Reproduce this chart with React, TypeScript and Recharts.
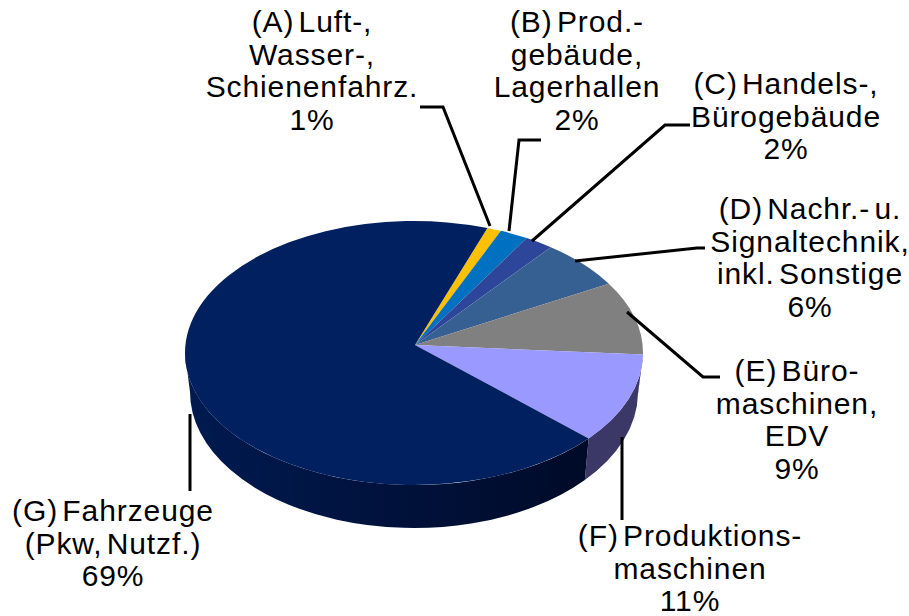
import { PieChart, Pie, Cell } from 'recharts';

const sliceLabels = [
  ['(A) Luft-,', 'Wasser-,', 'Schienenfahrz.'],
  ['(B) Prod.-', 'gebäude,', 'Lagerhallen'],
  ['(C) Handels-,', 'Bürogebäude'],
  ['(D) Nachr.- u.', 'Signaltechnik,', 'inkl. Sonstige'],
  ['(E) Büro-', 'maschinen,', 'EDV'],
  ['(F) Produktions-', 'maschinen'],
  ['(G) Fahrzeuge', '(Pkw, Nutzf.)'],
];
const sliceValues = [1, 2, 2, 6, 9, 11, 69];
const topColors = ['#ffc000', '#0070c0', '#2e4699', '#376092', '#808080', '#9999ff', '#002060'];
const sideColors = ['#806000', '#003860', '#17234c', '#1c3049', '#404040', '#3b3868', 'url(#fahrzeugeSide)'];

const chartData = sliceValues.map((value, i) => ({ name: sliceLabels[i].join(' '), value }));

// label block: centre x, first line middle y
const labelSpots = [
  [312, 22], [577, 22], [786, 84], [810, 209], [797, 371], [690, 536], [113, 511],
];
const leaderLines = [
  '420,107 443,107 490,226',
  '541,140 519,140 509,231',
  '690,125 665,125 532,241',
  '705,248 697,248 575,261',
  '720,377 703,377 627,312',
  '622,437 622,520',
  '190,414 190,491',
];

// the picture is a tilted pie, so the circle becomes an ellipse
const squash = 132 / 229;
const apexShift = { x: 1, y: -8 };
const lowerRim = { rx: 224, ry: 136, dy: 39 };

const rimPoint = (cx: number, cy: number, rx: number, ry: number, deg: number) => {
  const t = (deg * Math.PI) / 180;
  return `${cx + rx * Math.cos(t)} ${cy - ry * Math.sin(t)}`;
};

const TopSlice = (props: any) => {
  const { cx, cy, outerRadius, startAngle, endAngle, fill } = props;
  const rx = outerRadius;
  const ry = outerRadius * squash;
  const large = Math.abs(endAngle - startAngle) > 180 ? 1 : 0;
  const d = `M ${cx + apexShift.x} ${cy + apexShift.y} L ${rimPoint(cx, cy, rx, ry, startAngle)} A ${rx} ${ry} 0 ${large} 1 ${rimPoint(cx, cy, rx, ry, endAngle)} Z`;
  return <path d={d} fill={fill} />;
};

const SideSlice = (props: any) => {
  const { cx, cy, outerRadius, startAngle, endAngle, fill } = props;
  // only the front half of the rim shows
  const from = Math.min(startAngle, 0);
  const to = Math.max(endAngle, -180);
  if (from <= to) return null;
  const rx = outerRadius;
  const ry = outerRadius * squash;
  const d = `M ${rimPoint(cx, cy, rx, ry, from)} A ${rx} ${ry} 0 0 1 ${rimPoint(cx, cy, rx, ry, to)} L ${rimPoint(cx, cy + lowerRim.dy, lowerRim.rx, lowerRim.ry, to)} A ${lowerRim.rx} ${lowerRim.ry} 0 0 0 ${rimPoint(cx, cy + lowerRim.dy, lowerRim.rx, lowerRim.ry, from)} Z`;
  return <path d={d} fill={fill} />;
};

const SliceLabel = (props: any) => {
  const { index, value } = props;
  const [x, y] = labelSpots[index];
  const lines = [...sliceLabels[index], `${value}%`];
  return (
    <g>
      <polyline points={leaderLines[index]} fill="none" stroke="#000000" strokeWidth={3} />
      <text x={x} textAnchor="middle" fontFamily="'Liberation Sans', Arial, sans-serif" fontSize={30} letterSpacing={0.9} wordSpacing={-5} fill="#000000">
        {lines.map((line, i) => (
          <tspan key={i} x={x} y={y + i * 32.7 + 10}>{line}</tspan>
        ))}
      </text>
    </g>
  );
};

export default function App() {
  return (
    <div style={{ position: 'absolute', left: 0, top: 0, width: 909, height: 616 }}>
      <PieChart width={909} height={616} margin={{ top: 0, right: 0, bottom: 0, left: 0 }}>
        <defs>
          <linearGradient id="fahrzeugeSide" gradientUnits="userSpaceOnUse" x1={185} y1={0} x2={590} y2={0}>
            <stop offset="0" stopColor="#001a50" />
            <stop offset="1" stopColor="#000a28" />
          </linearGradient>
        </defs>
        <Pie
          data={chartData}
          dataKey="value"
          cx={414}
          cy={353}
          innerRadius={0}
          outerRadius={229}
          startAngle={71.3}
          endAngle={-288.7}
          stroke="none"
          shape={SideSlice}
          isAnimationActive={false}
        >
          {chartData.map((d, i) => <Cell key={d.name} fill={sideColors[i]} />)}
        </Pie>
        <Pie
          data={chartData}
          dataKey="value"
          cx={414}
          cy={353}
          innerRadius={0}
          outerRadius={229}
          startAngle={71.3}
          endAngle={-288.7}
          stroke="none"
          shape={TopSlice}
          label={SliceLabel}
          labelLine={false}
          isAnimationActive={false}
        >
          {chartData.map((d, i) => <Cell key={d.name} fill={topColors[i]} />)}
        </Pie>
      </PieChart>
    </div>
  );
}
